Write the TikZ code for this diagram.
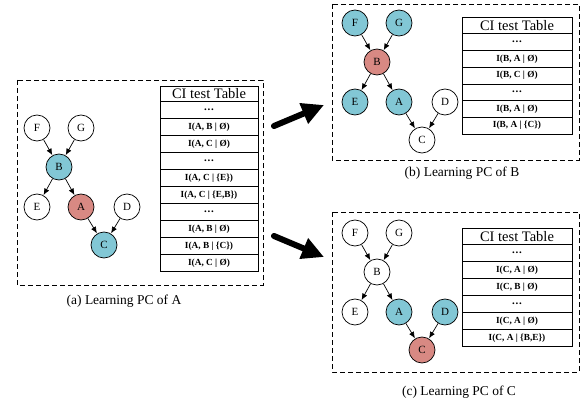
\documentclass[tikz,border=0pt]{standalone}
\usepackage{fontspec}
\setmainfont{Liberation Serif}
\usetikzlibrary{arrows.meta}
\definecolor{pcblue}{RGB}{130,199,213}
\definecolor{pcred}{RGB}{216,137,131}
\tikzset{
  pnode/.style={circle,draw,line width=0.7pt,minimum size=26pt,inner sep=0pt,
    font=\fontsize{11}{11}\selectfont},
  edge/.style={line width=0.7pt,-{Latex[length=6.5pt,width=5.5pt]},shorten >=0.3pt},
  panel/.style={draw,line width=0.8pt,dash pattern=on 5pt off 3pt},
  headcell/.style={draw,line width=0.8pt,anchor=north,inner sep=0pt,
    font=\fontsize{14.5}{14.5}\selectfont},
  rowcell/.style={draw,line width=0.8pt,anchor=north,inner sep=0pt,
    font=\bfseries\fontsize{9.3}{10}\selectfont},
  caption/.style={font=\fontsize{13.5}{13.5}\selectfont},
  bigarrow/.style={line width=6pt,line cap=round,
    -{Triangle[length=22pt,width=21pt]}},
}
% One copy of the seven-variable network; #1 = name prefix,
% #2..#8 = fills of F, G, B, E, A, D, C
\newcommand\pcgraph[8]{%
  \node[pnode,fill=#2] (#1F) at (37,128) {F};
  \node[pnode,fill=#3] (#1G) at (81,128) {G};
  \node[pnode,fill=#4] (#1B) at (59,167) {B};
  \node[pnode,fill=#5] (#1E) at (37,207) {E};
  \node[pnode,fill=#6] (#1A) at (81,207) {A};
  \node[pnode,fill=#7] (#1D) at (127,207) {D};
  \node[pnode,fill=#8] (#1C) at (104,245) {C};
  \draw[edge] (#1F) -- (#1B);
  \draw[edge] (#1G) -- (#1B);
  \draw[edge] (#1B) -- (#1E);
  \draw[edge] (#1B) -- (#1A);
  \draw[edge] (#1A) -- (#1C);
  \draw[edge] (#1D) -- (#1C);
}
% row of bold dots standing for skipped tests
\newcommand\cidots{\raisebox{0.3ex}{\fontsize{11}{11}\selectfont .\kern0.8pt.\kern0.8pt.}}
\begin{document}
\begin{tikzpicture}[x=1pt,y=-1pt]
  \useasboundingbox (0,0) rectangle (582,404);

  % ---- panel (a): PC of A ----
  \draw[panel] (17,80) rectangle (263,285);
  \pcgraph{a}{white}{white}{pcblue}{white}{pcred}{white}{pcblue}
  \node[headcell,minimum width=98pt,minimum height=15pt] (ta0) at (209,86) {CI test Table};
  \foreach \t [count=\i] in {{\cidots},{I(A, B | Ø)},{I(A, C | Ø)},{\cidots},
      {I(A, C | \{E\})},{I(A, C | \{E,B\})},{\cidots},{I(A, B | Ø)},
      {I(A, B | \{C\})},{I(A, C | Ø)}}
    \node[rowcell,minimum width=98pt,minimum height=17pt] (ta\i) at (209,{101+17*(\i-1)}) {\t};
  \node[caption] (capa) at (124,301) {(a) Learning PC of A};

  % ---- panel (b): PC of B ----
  \draw[panel] (332,4) rectangle (579,160);
  \begin{scope}[shift={(318,-105)}]
    \pcgraph{b}{pcblue}{pcblue}{pcred}{pcblue}{pcblue}{white}{white}
  \end{scope}
  \node[headcell,minimum width=110pt,minimum height=16.5pt] (tb0) at (517,17) {CI test Table};
  \foreach \t [count=\i] in {{\cidots},{I(B, A | Ø)},{I(B, C | Ø)},{\cidots},
      {I(B, A | Ø)},{I(B, A | \{C\})}}
    \node[rowcell,minimum width=110pt,minimum height=16.7pt] (tb\i) at (517,{33.5+16.7*(\i-1)}) {\t};
  \node[caption] (capb) at (462,173) {(b) Learning PC of B};

  % ---- panel (c): PC of C ----
  \draw[panel] (332,212) rectangle (579,372);
  \begin{scope}[shift={(318,105)}]
    \pcgraph{c}{white}{white}{white}{white}{pcblue}{pcblue}{pcred}
  \end{scope}
  \node[headcell,minimum width=110pt,minimum height=16pt] (tc0) at (517,228) {CI test Table};
  \foreach \t [count=\i] in {{\cidots},{I(C, A | Ø)},{I(C, B | Ø)},{\cidots},
      {I(C, A | Ø)},{I(C, A | \{B,E\})}}
    \node[rowcell,minimum width=110pt,minimum height=17pt] (tc\i) at (517,{244+17*(\i-1)}) {\t};
  \node[caption] (capc) at (459,392) {(c) Learning PC of C};

  % ---- transitions between panels ----
  \coordinate (s1) at (274,126);
  \coordinate (e1) at (324,105);
  \coordinate (s2) at (274,236);
  \coordinate (e2) at (324,257);
  \draw[bigarrow] (s1) -- (e1);
  \draw[bigarrow] (s2) -- (e2);
\end{tikzpicture}
\end{document}
